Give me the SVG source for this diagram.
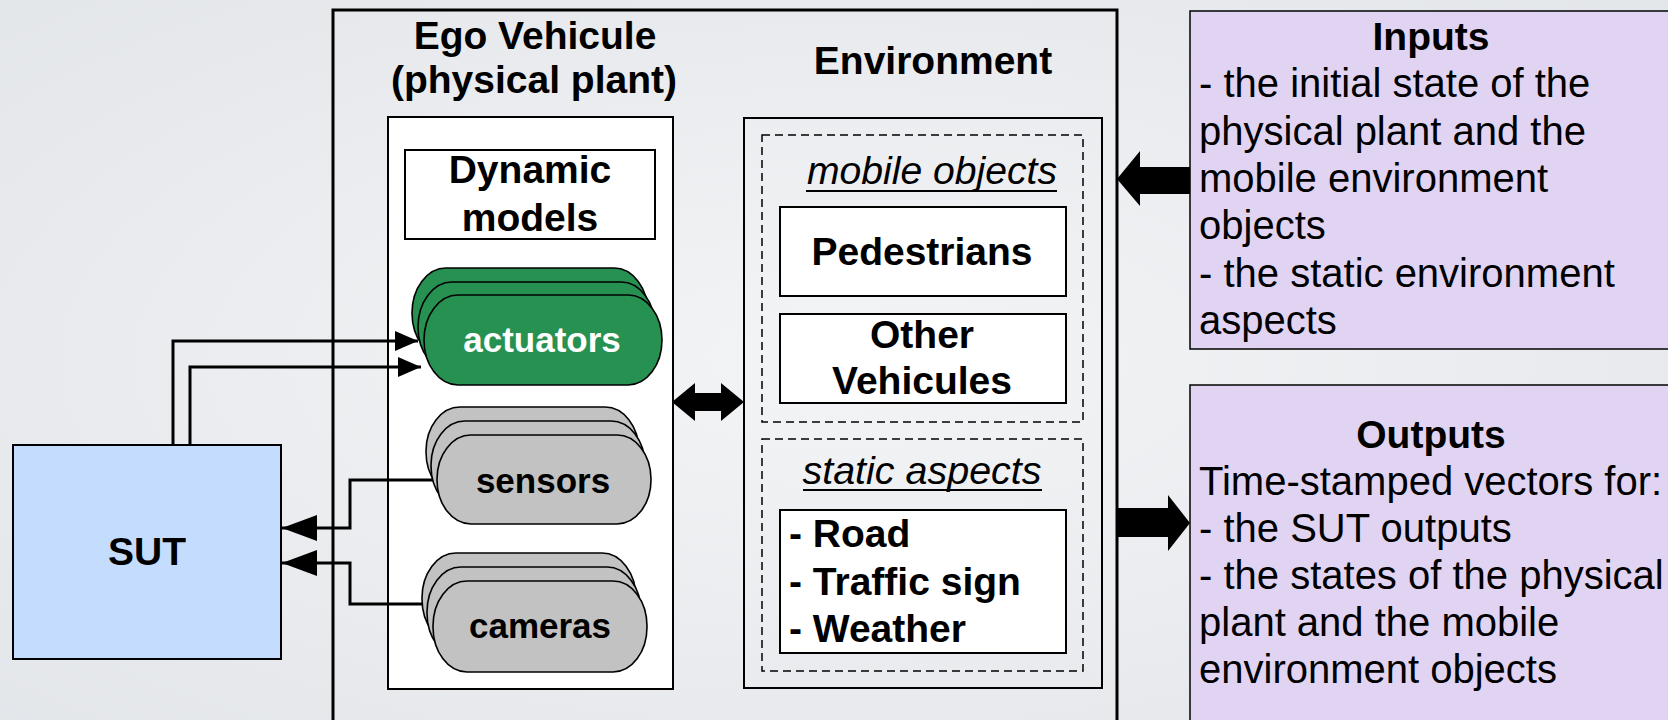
<svg xmlns="http://www.w3.org/2000/svg" width="1668" height="720" viewBox="0 0 1668 720">
  <defs>
    <radialGradient id="bg" cx="50%" cy="50%" r="75%">
      <stop offset="0" stop-color="#f3f4f6"/>
      <stop offset="1" stop-color="#e2e5e9"/>
    </radialGradient>
    <marker id="headSmall" markerUnits="userSpaceOnUse" markerWidth="23" markerHeight="20" refX="23" refY="10" orient="auto">
      <path d="M0,0 L23,10 L0,20 z" fill="#000"/>
    </marker>
    <marker id="headLarge" markerUnits="userSpaceOnUse" markerWidth="35" markerHeight="26" refX="35" refY="13" orient="auto">
      <path d="M0,0 L35,13 L0,26 z" fill="#000"/>
    </marker>
    <style>
      .t { font-family: "Liberation Sans", Arial, sans-serif; fill: #000; }
      .b { font-weight: bold; font-size: 39px; }
      .lbl { font-weight: bold; font-size: 35px; }
      .it { font-style: italic; font-size: 38px; }
      .body { font-size: 40px; }
      .head { font-weight: bold; font-size: 39px; }
      .mid { text-anchor: middle; }
      .box { fill: #fff; stroke: #000; stroke-width: 2; }
      .frame { fill: none; stroke: #000; stroke-width: 2; }
      .dash { fill: none; stroke: #000; stroke-width: 1.5; stroke-dasharray: 8 5; }
      .green { fill: #279152; stroke: #000; stroke-width: 1.6; }
      .grey { fill: #c2c2c2; stroke: #000; stroke-width: 1.6; }
      .wire { fill: none; stroke: #000; stroke-width: 3; }
      .purple { fill: #e1d4f3; stroke: #000; stroke-width: 1.5; }
    </style>
  </defs>

  <rect x="0" y="0" width="1668" height="720" fill="url(#bg)"/>

  <!-- system under test -->
  <g id="sut">
    <rect x="13" y="445" width="268" height="214" fill="#c4dcfd" stroke="#000" stroke-width="2"/>
    <text class="t b mid" x="147" y="565">SUT</text>
  </g>

  <!-- outer simulator frame -->
  <g id="simulator">
    <rect x="333" y="10" width="784" height="730" fill="none" stroke="#000" stroke-width="3"/>
  </g>

  <!-- ego vehicle -->
  <g id="ego-vehicle">
    <text class="t b mid" x="535" y="49">Ego Vehicule</text>
    <text class="t b mid" x="534" y="93">(physical plant)</text>
    <rect class="box" x="388" y="117" width="285" height="572"/>
  </g>

  <g id="dynamic-models">
    <rect class="box" x="405" y="150" width="250" height="89" stroke-width="1.5"/>
    <text class="t b mid" x="530" y="183">Dynamic</text>
    <text class="t b mid" x="530" y="231">models</text>
  </g>

  <g id="actuators">
    <rect class="green" x="412" y="268" width="236" height="90" rx="34" ry="45"/>
    <rect class="green" x="418" y="282" width="237" height="90" rx="34" ry="45"/>
    <rect class="green" x="424" y="295" width="238" height="90" rx="34" ry="45"/>
    <text class="t lbl mid" x="542" y="352" style="fill:#fff">actuators</text>
  </g>

  <g id="sensors">
    <rect class="grey" x="426" y="407" width="213" height="89" rx="34" ry="44"/>
    <rect class="grey" x="431" y="421" width="214" height="89" rx="34" ry="44"/>
    <rect class="grey" x="437" y="435" width="214" height="89" rx="34" ry="44"/>
    <text class="t lbl mid" x="543" y="493">sensors</text>
  </g>

  <g id="cameras">
    <rect class="grey" x="422" y="553" width="214" height="91" rx="34" ry="45"/>
    <rect class="grey" x="427" y="567" width="214" height="91" rx="34" ry="45"/>
    <rect class="grey" x="433" y="581" width="214" height="91" rx="34" ry="45"/>
    <text class="t lbl mid" x="540" y="638">cameras</text>
  </g>

  <!-- environment -->
  <g id="environment">
    <text class="t b mid" x="933" y="74">Environment</text>
    <rect class="frame" x="744" y="118" width="358" height="570"/>
  </g>

  <g id="mobile-objects">
    <rect class="dash" x="762" y="135" width="321" height="287"/>
    <text class="t it mid" x="932" y="184" textLength="250" lengthAdjust="spacingAndGlyphs">mobile objects</text>
    <line x1="806" y1="191" x2="1057" y2="191" stroke="#000" stroke-width="2"/>
  </g>

  <g id="pedestrians">
    <rect class="box" x="780" y="207" width="286" height="89" stroke-width="1.5"/>
    <text class="t b mid" x="922" y="265">Pedestrians</text>
  </g>

  <g id="other-vehicules">
    <rect class="box" x="780" y="314" width="286" height="89" stroke-width="1.5"/>
    <text class="t b mid" x="922" y="348">Other</text>
    <text class="t b mid" x="922" y="394">Vehicules</text>
  </g>

  <g id="static-aspects">
    <rect class="dash" x="762" y="439" width="321" height="232"/>
    <text class="t it mid" x="922" y="484" textLength="239" lengthAdjust="spacingAndGlyphs">static aspects</text>
    <line x1="803" y1="490" x2="1042" y2="490" stroke="#000" stroke-width="2"/>
    <rect class="box" x="780" y="510" width="286" height="143" stroke-width="1.5"/>
    <text class="t b" x="789" y="547">- Road</text>
    <text class="t b" x="789" y="595">- Traffic sign</text>
    <text class="t b" x="789" y="642">- Weather</text>
  </g>

  <!-- inputs / outputs -->
  <g id="inputs">
    <rect class="purple" x="1190" y="11" width="520" height="338"/>
    <text class="t head mid" x="1431" y="50">Inputs</text>
    <text class="t body" x="1199" y="97">- the initial state of the</text>
    <text class="t body" x="1199" y="145">physical plant and the</text>
    <text class="t body" x="1199" y="192">mobile environment</text>
    <text class="t body" x="1199" y="239">objects</text>
    <text class="t body" x="1199" y="287">- the static environment</text>
    <text class="t body" x="1199" y="334">aspects</text>
  </g>

  <g id="outputs">
    <rect class="purple" x="1190" y="385" width="520" height="360"/>
    <text class="t head mid" x="1431" y="448">Outputs</text>
    <text class="t body" x="1199" y="495">Time-stamped vectors for:</text>
    <text class="t body" x="1199" y="542">- the SUT outputs</text>
    <text class="t body" x="1199" y="589">- the states of the physical</text>
    <text class="t body" x="1199" y="636">plant and the mobile</text>
    <text class="t body" x="1199" y="683">environment objects</text>
  </g>

  <!-- connectors -->
  <g id="connectors">
    <path class="wire" d="M173,445 V341 H418" marker-end="url(#headSmall)"/>
    <path class="wire" d="M190,445 V367 H421" marker-end="url(#headSmall)"/>
    <path class="wire" d="M433,480 H350 V528 H282" marker-end="url(#headLarge)"/>
    <path class="wire" d="M422,604 H350 V563 H282" marker-end="url(#headLarge)"/>
    <!-- ego vehicle <-> environment -->
    <polygon points="672,402 695,383 695,393 721,393 721,383 744,402 721,421 721,411 695,411 695,421" fill="#000"/>
    <!-- inputs into the simulator -->
    <polygon points="1117,179 1140,151 1140,167 1190,167 1190,194 1140,194 1140,206" fill="#000"/>
    <!-- simulator to outputs -->
    <polygon points="1117,508 1168,508 1168,495 1190,523 1168,551 1168,537 1117,537" fill="#000"/>
  </g>
</svg>
